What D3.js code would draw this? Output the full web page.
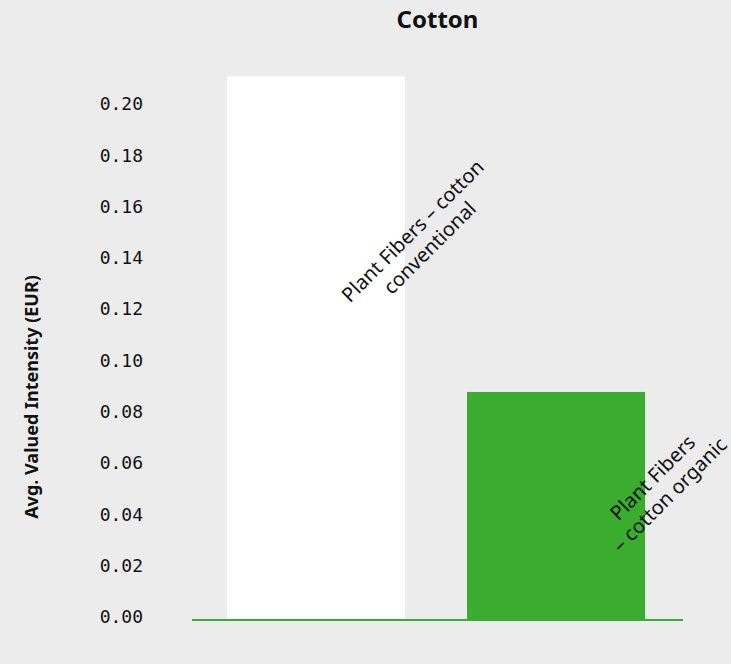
<!DOCTYPE html>
<html>
<head>
<meta charset="utf-8">
<script src="https://cdn.jsdelivr.net/npm/d3@7"></script>
<style>
  html, body { margin: 0; padding: 0; background: #ececec; }
  svg { display: block; }
</style>
</head>
<body>
<svg id="chart" width="731" height="664"></svg>
<script>
// Chart content
const chartTitle = "Cotton";
const yAxisTitle = "Avg. Valued Intensity (EUR)";
const categories = ["conventional", "organic"];
const categoryLabels = [
  ["Plant Fibers – cotton", "conventional"],
  ["Plant Fibers", "– cotton organic"]
];
const values = [0.212, 0.0889];
const barColors = ["#ffffff", "#3aad2e"];
const yTicks = [0, 0.02, 0.04, 0.06, 0.08, 0.10, 0.12, 0.14, 0.16, 0.18, 0.20];

const width = 731, height = 664;
const plot = { left: 192, right: 683, top: 107, bottom: 620 };
const sans = "'Noto Sans', 'Open Sans', sans-serif";

const svg = d3.select("#chart");

svg.append("rect")
  .attr("width", width).attr("height", height)
  .attr("fill", "#ececec");

const x = d3.scaleBand()
  .domain(categories)
  .range([plot.left, plot.right])
  .paddingInner(0.258)
  .paddingOuter(0.152)
  .align(0.48);

const y = d3.scaleLinear()
  .domain([0, 0.2])
  .range([plot.bottom, plot.top]);

// Title
svg.append("text")
  .attr("x", (plot.left + plot.right) / 2)
  .attr("y", 28)
  .attr("text-anchor", "middle")
  .attr("font-family", sans)
  .attr("font-weight", 700)
  .attr("font-size", 24)
  .attr("fill", "#111")
  .text(chartTitle);

// Y axis (labels only)
const yAxis = d3.axisLeft(y)
  .tickValues(yTicks)
  .tickFormat(d3.format(".2f"))
  .tickSize(0)
  .tickPadding(0);

const yg = svg.append("g")
  .attr("transform", `translate(143,-3)`)
  .call(yAxis);
yg.select(".domain").remove();
yg.selectAll("text")
  .attr("font-family", "'DejaVu Sans Mono', monospace")
  .attr("font-size", 18)
  .attr("fill", "#111");

// Y axis title
svg.append("text")
  .attr("transform", `translate(38,397) rotate(-90)`)
  .attr("text-anchor", "middle")
  .attr("font-family", sans)
  .attr("font-weight", 700)
  .attr("font-size", 18)
  .attr("fill", "#111")
  .text(yAxisTitle);

// Bars
const data = categories.map((c, i) => ({ cat: c, value: values[i], color: barColors[i], lines: categoryLabels[i] }));

svg.append("g").selectAll("rect")
  .data(data)
  .join("rect")
  .attr("x", d => x(d.cat))
  .attr("y", d => y(d.value))
  .attr("width", x.bandwidth())
  .attr("height", d => y(0) - y(d.value))
  .attr("fill", d => d.color);

// Baseline
svg.append("line")
  .attr("x1", plot.left).attr("x2", plot.right)
  .attr("y1", y(0)).attr("y2", y(0))
  .attr("stroke", "#3aad2e")
  .attr("stroke-width", 2);

// Rotated category labels; vertical placement as a share of each bar's value
const labelDepth = [0.70, 0.587];
const lineHeight = 24;
const labels = svg.append("g").selectAll("text")
  .data(data)
  .join("text")
  .attr("transform", (d, i) => `translate(${x(d.cat) + x.bandwidth() * 1.09},${y(d.value * labelDepth[i])}) rotate(-45)`)
  .attr("text-anchor", "middle")
  .attr("font-family", sans)
  .attr("font-size", 20)
  .attr("fill", "#111");

labels.selectAll("tspan")
  .data(d => d.lines.map((t, j) => ({ t, j, n: d.lines.length })))
  .join("tspan")
  .attr("x", 0)
  .attr("y", d => (d.j - (d.n - 1) / 2) * lineHeight)
  .attr("dy", "0.35em")
  .text(d => d.t);
</script>
</body>
</html>
